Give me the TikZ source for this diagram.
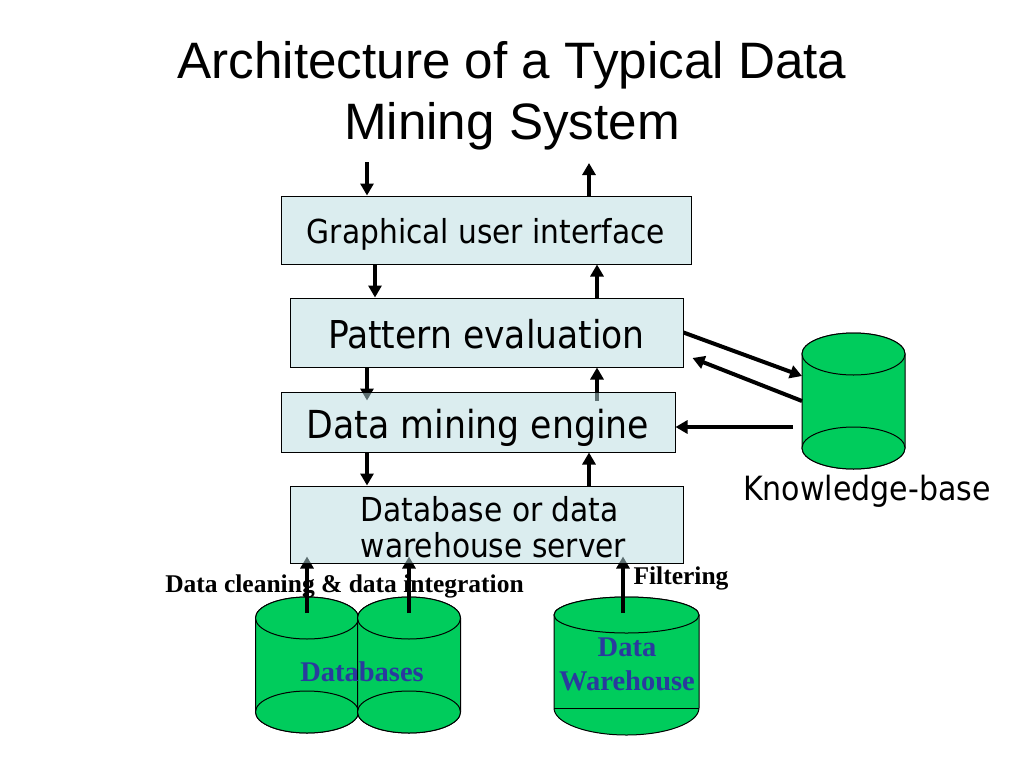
\documentclass[tikz,border=0pt]{standalone}
\usepackage{fontspec}
\setmainfont{Liberation Serif}
\newfontfamily\titlefont{Liberation Sans}
\newfontfamily\boxfont{DejaVu Sans Condensed}
\usetikzlibrary{arrows.meta,backgrounds}
\definecolor{boxfill}{RGB}{184,220,224}
\definecolor{barrelgreen}{RGB}{0,204,92}
\definecolor{labelblue}{RGB}{42,58,158}
\newcommand{\barrel}[5]{% name, centre x, top y, bottom y, radius y
  \node[barrelbox, minimum width=103pt, minimum height=136pt] (#1) at (#2,#3+68) {};
  \begin{pgfonlayer}{background}
    \filldraw[barrelline] (#2-51.5,#3+21) -- (#2-51.5,#4) arc[start angle=180,end angle=360,x radius=51.5pt,y radius=#5pt]
      -- (#2+51.5,#3+21) arc[start angle=0,end angle=180,x radius=51.5pt,y radius=21pt] -- cycle;
    \draw[barrelline] (#2,#3+21) ellipse[x radius=51.5pt,y radius=21pt];
    \draw[barrelline] (#2,#4) ellipse[x radius=51.5pt,y radius=#5pt];
  \end{pgfonlayer}
}
\begin{document}
\begin{tikzpicture}[
  x=1pt, y=-1pt,
  box/.style={draw, line width=1pt, fill=boxfill, fill opacity=0.5, text opacity=1, inner sep=0pt, font=\boxfont, align=left},
  barrelbox/.style={inner sep=0pt, outer sep=0pt},
  barrelline/.style={draw=black, fill=barrelgreen, line width=1pt},
  flow/.style={line width=4pt, -{Triangle[width=13pt,length=12pt]}},
  boldlabel/.style={font=\bfseries\fontsize{25.5}{30}\selectfont},
  dbtext/.style={font=\bfseries\fontsize{28.5}{34}\selectfont, text=labelblue, align=center}
]
  \begin{pgfonlayer}{background}
    \fill[white] (0,0) rectangle (1024,768);
  \end{pgfonlayer}
  \useasboundingbox (0,0) rectangle (1024,768);

  \node[font=\titlefont\fontsize{51.2}{61}\selectfont, align=center] (title) at (512,96) {Architecture of a Typical Data\\Mining System};

  \node[box, minimum width=410pt, minimum height=68pt, text height=33pt, font=\boxfont\fontsize{33}{36}\selectfont] (gui) at (486,230) {Graphical user interface};
  \node[box, minimum width=393pt, minimum height=69pt, text height=33pt, font=\boxfont\fontsize{38.4}{40}\selectfont] (pat) at (486.5,332.5) {Pattern evaluation};
  \node[box, minimum width=394pt, minimum height=60pt, text height=41pt, font=\boxfont\fontsize{38.6}{40}\selectfont] (dm) at (478,422) {Data mining engine};
  \node[box, minimum width=393pt, minimum height=77pt, font=\boxfont\fontsize{33}{36}\selectfont] (srv) at (486.5,524.5) {\rule{0pt}{31pt}\hspace*{14pt}Database or data\\\hspace*{14pt}warehouse server};

  \barrel{kb}{853.5}{333}{448}{21}
  \barrel{dba}{307}{597}{712}{21}
  \barrel{dbb}{409}{597}{712}{21}
  % warehouse: flat line over the lower half
  \node[barrelbox, minimum width=145pt, minimum height=138pt] (wh) at (626.5,666) {};
  \begin{pgfonlayer}{background}
    \filldraw[barrelline] (554,615) -- (554,708) arc[start angle=180,end angle=360,x radius=72.5pt,y radius=27pt] -- (699,615) arc[start angle=0,end angle=180,x radius=72.5pt,y radius=18pt] -- cycle;
    \draw[barrelline] (626.5,615) ellipse[x radius=72.5pt,y radius=18pt];
    \draw[barrelline] (554,708) -- (699,708);
  \end{pgfonlayer}

  \node[font=\boxfont\fontsize{33.4}{36}\selectfont] (kblabel) at (867,491) {Knowledge-base};
  \node[dbtext] (dblabel) at (362,672) {Databases};
  \node[dbtext] (whlabel) at (627,664) {Data\\Warehouse};
  \node[boldlabel] (cleanlabel) at (344.5,586) {Data cleaning \& data integration};
  \node[boldlabel] (filterlabel) at (681,578) {Filtering};

  \coordinate (guiin) at (367,162);
  \coordinate (guiout) at (589,163);

  \begin{pgfonlayer}{background}
    \draw[flow] (guiin) -- ([xshift=-119pt]gui.north);
    \draw[flow] ([xshift=103pt]gui.north) -- (guiout);
    \draw[flow] ([xshift=-111pt]gui.south) -- ([xshift=-111.5pt]pat.north);
    \draw[flow] ([xshift=110.5pt]pat.north) -- ([xshift=111pt]gui.south);
    \draw[flow] ([xshift=-119.5pt]pat.south) -- ([xshift=-111pt,yshift=-9pt]dm.north);
    \draw[flow] ([xshift=119pt,yshift=-9pt]dm.north) -- ([xshift=110.5pt]pat.south);
    \draw[flow] ([xshift=-111pt]dm.south) -- ([xshift=-119.5pt]srv.north);
    \draw[flow] ([xshift=102.5pt]srv.north) -- ([xshift=111pt]dm.south);
    \draw[flow] (pat.east) -- ([yshift=25pt]kb.west);
    \draw[flow] (kb.west) -- ([xshift=9pt,yshift=-25.5pt]pat.east);
    \draw[flow] ([xshift=-9pt,yshift=-26pt]kb.west) -- ([yshift=-5pt]dm.east);
    \draw[flow] ([yshift=-16pt]dba.north) -- ([xshift=-179.5pt,yshift=7pt]srv.south);
    \draw[flow] ([yshift=-16pt]dbb.north) -- ([xshift=-77.5pt,yshift=7pt]srv.south);
    \draw[flow] ([xshift=-3.5pt,yshift=-16pt]wh.north) -- ([xshift=136.5pt,yshift=7pt]srv.south);
  \end{pgfonlayer}
\end{tikzpicture}
\end{document}
